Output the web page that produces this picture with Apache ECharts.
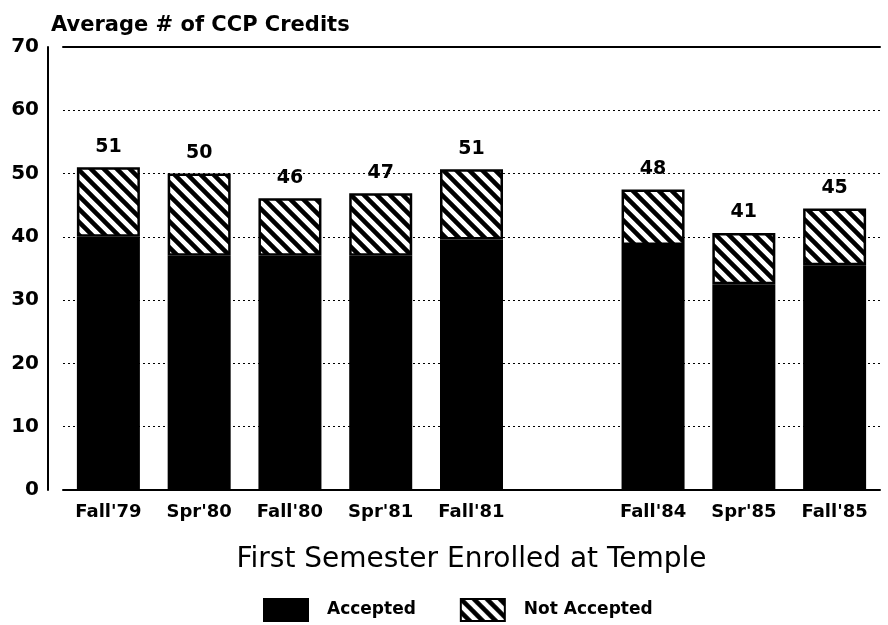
<!DOCTYPE html>
<html>
<head>
<meta charset="utf-8">
<script src="https://cdn.jsdelivr.net/npm/echarts@6/dist/echarts.min.js"></script>
<style>
  html, body { margin: 0; padding: 0; background: #fff; }
  #main { width: 888px; height: 625px; }
</style>
</head>
<body>
<div id="main"></div>
<script>
// semesters (blank slot = gap in the original chart)
var categories = ['Fall\'79', 'Spr\'80', 'Fall\'80', 'Spr\'81', 'Fall\'81', '', 'Fall\'84', 'Spr\'85', 'Fall\'85'];
var accepted = [40, 37, 37, 37, 39.6, null, 38.7, 32.5, 35.5];
var notAccepted = [11, 13, 9.1, 9.9, 11.1, null, 8.8, 8.1, 9];
var totalLabels = ['51', '50', '46', '47', '51', '', '48', '41', '45'];
var yTicks = [0, 10, 20, 30, 40, 50, 60, 70];

// hatch pattern, lines going down to the right
function hatch() {
  var c = document.createElement('canvas');
  c.width = 13; c.height = 13;
  var g = c.getContext('2d');
  g.fillStyle = '#fff';
  g.fillRect(0, 0, 13, 13);
  g.strokeStyle = '#000';
  g.lineWidth = 4.5;
  g.beginPath();
  g.moveTo(-3, -3); g.lineTo(16, 16);
  g.moveTo(-16, -3); g.lineTo(3, 16);
  g.moveTo(10, -3); g.lineTo(29, 16);
  g.stroke();
  return c;
}

var font = '"DejaVu Sans", Verdana, sans-serif';
var chart = echarts.init(document.getElementById('main'));

chart.setOption({
  animation: false,
  title: {
    text: 'Average # of CCP Credits',
    left: 46, top: 10,
    textStyle: { fontFamily: font, fontSize: 21, fontWeight: 'bold', color: '#000' }
  },
  legend: {
    left: 258, top: 593,
    icon: 'rect',
    itemWidth: 44, itemHeight: 22, itemGap: 44,
    textStyle: { fontFamily: font, fontSize: 17, fontWeight: 'bold', color: '#000', padding: [0, 0, 0, 14] },
    data: ['Accepted', 'Not Accepted']
  },
  grid: { left: 63, right: 8, top: 47, bottom: 135 },
  xAxis: [{
    type: 'category',
    data: categories,
    axisLine: { lineStyle: { color: '#000', width: 2 } },
    axisTick: { show: false },
    axisLabel: { fontFamily: font, fontSize: 18, fontWeight: 'bold', color: '#000', margin: 13 },
    name: 'First Semester Enrolled at Temple',
    nameLocation: 'middle',
    nameGap: 56,
    nameTextStyle: { fontFamily: font, fontSize: 28, color: '#000' }
  }, {
    type: 'category',
    position: 'top',
    data: categories,
    axisLine: { lineStyle: { color: '#000', width: 2 } },
    axisTick: { show: false },
    axisLabel: { show: false }
  }],
  yAxis: {
    type: 'value',
    min: yTicks[0], max: yTicks[yTicks.length - 1], interval: 10,
    offset: 15,
    axisLine: { show: true, lineStyle: { color: '#000', width: 2 } },
    axisTick: { show: false },
    axisLabel: { fontFamily: font, fontSize: 20, fontWeight: 'bold', color: '#000', margin: 9 },
    splitLine: { lineStyle: { color: '#000', type: [2, 3], width: 1 } }
  },
  series: [{
    name: 'Accepted',
    type: 'bar',
    stack: 'credits',
    barWidth: 63,
    data: accepted,
    itemStyle: { color: '#000', borderColor: '#000', borderWidth: 2 }
  }, {
    name: 'Not Accepted',
    type: 'bar',
    stack: 'credits',
    barWidth: 63,
    data: notAccepted,
    itemStyle: { color: { image: hatch(), repeat: 'repeat' }, borderColor: '#000', borderWidth: 2.5 },
    label: {
      show: true,
      position: 'top',
      distance: 11,
      fontFamily: font, fontSize: 19, fontWeight: 'bold', color: '#000',
      formatter: function (p) { return totalLabels[p.dataIndex]; }
    }
  }]
});
</script>
</body>
</html>
